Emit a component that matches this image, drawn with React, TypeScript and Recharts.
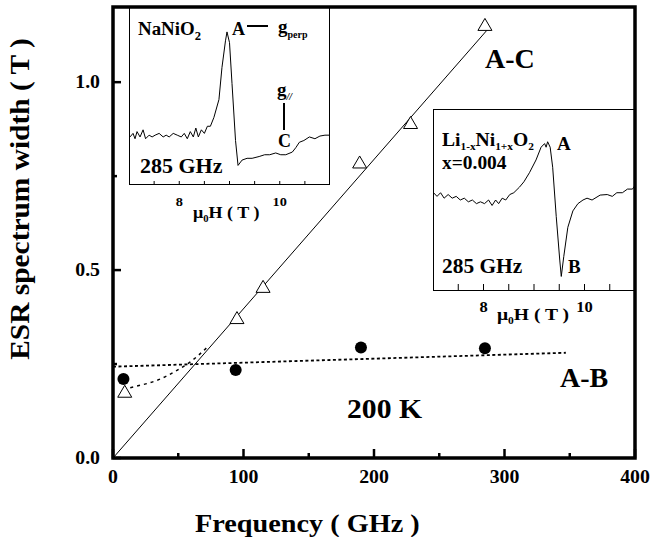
import React from "react";
import { ComposedChart, LineChart, Line, Scatter, XAxis, YAxis, ReferenceArea } from "recharts";

// main plot: A-C (open triangles) and A-B (filled circles) widths vs frequency
const triFreq = [9, 95, 115, 189, 228, 285];
const triWidth = [0.175, 0.371, 0.454, 0.785, 0.89, 1.151];
const dotFreq = [8, 94, 190, 285];
const dotWidth = [0.21, 0.234, 0.294, 0.292];

const fitACFreq = [0, 287];
const fitACWidth = [0, 1.14];
const fitABFreq = [0, 347];
const fitABWidth = [0.243, 0.28];
const lowFreq = [8, 18, 34, 49, 59, 72];
const lowWidth = [0.183, 0.191, 0.207, 0.233, 0.255, 0.294];

const freqTicks = [0, 50, 100, 150, 200, 250, 300, 350, 400];
const freqLabels = ["0", "", "100", "", "200", "", "300", "", "400"];
const widthTicks = [0, 0.25, 0.5, 0.75, 1.0];
const widthLabels = ["0.0", "", "0.5", "", "1.0"];

// inset spectra (field in T, signal in arbitrary units 0-100)
const spec1Field = [7.02, 7.08, 7.12, 7.16, 7.22, 7.28, 7.33, 7.4, 7.46, 7.52, 7.6, 7.68, 7.74, 7.8, 7.88, 7.96, 8.04, 8.1, 8.16, 8.22, 8.28, 8.33, 8.38, 8.44, 8.5, 8.56, 8.62, 8.69, 8.79, 8.85, 8.92, 8.95, 9.0, 9.05, 9.12, 9.17, 9.25, 9.35, 9.45, 9.59, 9.7, 9.8, 9.92, 10.02, 10.12, 10.25, 10.32, 10.39, 10.48, 10.59, 10.7, 10.8, 10.9, 10.99];
const spec1Signal = [27, 29, 26, 30, 27, 31, 26, 28, 27, 28, 29, 27, 28, 27, 29, 28, 27, 29, 26, 30, 27, 32, 27, 31, 29, 33, 33, 38, 48, 66, 81, 86, 80, 57, 25, 11, 14, 15, 15, 16, 17, 17, 18, 17, 17, 18.5, 21, 24, 25, 27, 26, 27.5, 28, 28];

const spec2Field = [7.01, 7.08, 7.15, 7.22, 7.3, 7.38, 7.46, 7.54, 7.62, 7.7, 7.78, 7.86, 7.94, 8.02, 8.1, 8.17, 8.24, 8.3, 8.37, 8.44, 8.52, 8.6, 8.71, 8.8, 8.91, 9.04, 9.14, 9.21, 9.24, 9.27, 9.32, 9.37, 9.44, 9.51, 9.54, 9.59, 9.67, 9.77, 9.87, 9.97, 10.05, 10.15, 10.31, 10.45, 10.55, 10.64, 10.75, 10.85, 10.95, 11.0];
const spec2Signal = [54, 52, 54, 51, 53, 51, 52, 50, 51, 49, 50, 48, 49, 48, 50, 47, 50, 48, 51, 50, 53, 54, 57, 60, 65, 72, 79, 81, 79, 82, 79, 68, 41, 17, 8, 19, 35, 44, 48, 50, 51, 50, 52.7, 53, 52, 54, 54, 56, 56, 58];

const fieldTicks = [7.5, 8, 8.5, 9, 9.5, 10, 10.5];
const fieldLabels = ["", "8", "", "", "", "10", ""];

const pts = (xs: number[], ys: number[]) => xs.map((f, i) => ({ f, v: ys[i] }));

const FONT = "'Liberation Serif', 'Times New Roman', serif";

function FreqTick(props: any) {
  const { x, y, payload } = props;
  const label = freqLabels[freqTicks.indexOf(payload.value)];
  const major = label !== "";
  return (
    <g>
      <line x1={x} x2={x} y1={y} y2={y - (major ? 9 : 5)} stroke="#000" strokeWidth={2.5} />
      {major && (
        <text transform={`translate(${x},${y + 25}) scale(1.1,1)`} textAnchor="middle"
          fontFamily={FONT} fontWeight="bold" fontSize={18} fill="#000">{label}</text>
      )}
    </g>
  );
}

function WidthTick(props: any) {
  const { x, y, payload } = props;
  const label = widthLabels[widthTicks.indexOf(payload.value)];
  const major = label !== "";
  return (
    <g>
      <line x1={x} x2={x + (major ? 8 : 4)} y1={y} y2={y} stroke="#000" strokeWidth={2.5} />
      {major && (
        <text transform={`translate(${x - 13},${y + 6}) scale(1.1,1)`} textAnchor="end"
          fontFamily={FONT} fontWeight="bold" fontSize={18} fill="#000">{label}</text>
      )}
    </g>
  );
}

function FieldTick(props: any) {
  const { x, y, payload, len, size, dy } = props;
  const label = fieldLabels[fieldTicks.indexOf(payload.value)];
  return (
    <g>
      <line x1={x} x2={x} y1={y} y2={y - len} stroke="#000" strokeWidth={1} />
      {label !== "" && (
        <text transform={`translate(${x},${y + dy}) scale(1.1,1)`} textAnchor="middle"
          fontFamily={FONT} fontWeight="bold" fontSize={size} fill="#000">{label}</text>
      )}
    </g>
  );
}

const Triangle = (p: any) => (
  <polygon points={`${p.cx},${p.cy - 7} ${p.cx - 7},${p.cy + 5} ${p.cx + 7},${p.cy + 5}`}
    fill="#fff" stroke="#000" strokeWidth={1} />
);
const Dot = (p: any) => <circle cx={p.cx} cy={p.cy} r={6} fill="#000" />;

function Txt({ x, y, size, k = 1, anchor = "start", children }: any) {
  const shift = anchor === "middle" ? "-50%" : anchor === "end" ? "-100%" : "0";
  const origin = anchor === "middle" ? "center" : anchor === "end" ? "right" : "left";
  return (
    <div style={{
      position: "absolute", left: x, top: y - 0.8375 * size, fontSize: size, lineHeight: 1,
      whiteSpace: "nowrap", transform: `translateX(${shift}) scaleX(${k})`, transformOrigin: `${origin} center`,
    }}>{children}</div>
  );
}

const Sub = ({ size, drop, italic, children }: any) => (
  <span style={{ fontSize: size, verticalAlign: -drop, lineHeight: 1, fontStyle: italic ? "italic" : "normal" }}>{children}</span>
);

function Inset({ left, top, w, h, data, len, size }: any) {
  return (
    <>
      <div style={{ position: "absolute", left, top, width: w, height: h, border: "1px solid #000",
        background: "#fff", boxSizing: "border-box" }} />
      <div style={{ position: "absolute", left, top }}>
        <LineChart width={w} height={h + 30} data={data} margin={{ top: 0, right: 0, bottom: 0, left: 0 }}>
          <XAxis type="number" dataKey="f" domain={[7, 11]} ticks={fieldTicks} interval={0} height={30}
            tickSize={0} tickMargin={0} axisLine={false} tickLine={false}
            tick={(p: any) => <FieldTick {...p} len={len} size={size} dy={21} />} />
          <YAxis hide type="number" domain={[0, 100]} />
          <Line dataKey="v" type="linear" stroke="#000" strokeWidth={1} dot={false} isAnimationActive={false} />
        </LineChart>
      </div>
    </>
  );
}

export default function App() {
  return (
    <div style={{ position: "absolute", left: 0, top: 0, width: 651, height: 537, background: "#fff",
      overflow: "hidden", fontFamily: FONT, fontWeight: "bold", color: "#000" }}>
      <Inset left={129} top={7} w={201} h={178} data={pts(spec1Field, spec1Signal)} len={4} size={13} />
      <Inset left={433} top={109} w={202} h={182} data={pts(spec2Field, spec2Signal)} len={7} size={15} />

      <div style={{ position: "absolute", left: 0, top: 0 }}>
        <ComposedChart width={651} height={537} margin={{ top: 7, right: 16, bottom: 49, left: 53 }}>
          <XAxis type="number" dataKey="f" domain={[0, 400]} ticks={freqTicks} interval={0} height={30}
            tickSize={0} tickMargin={0} axisLine={false} tickLine={false} tick={<FreqTick />} />
          <YAxis type="number" dataKey="v" domain={[0, 1.2]} ticks={widthTicks} interval={0} width={60}
            tickSize={0} tickMargin={0} axisLine={false} tickLine={false} tick={<WidthTick />} />
          <ReferenceArea x1={0} x2={400} y1={0} y2={1.2} fill="none" stroke="#000" strokeWidth={3.5} />
          <Line data={pts(fitACFreq, fitACWidth)} dataKey="v" type="linear" stroke="#000" strokeWidth={1}
            dot={false} isAnimationActive={false} />
          <Line data={pts(fitABFreq, fitABWidth)} dataKey="v" type="linear" stroke="#000" strokeWidth={1.8}
            strokeDasharray="3 2.5" dot={false} isAnimationActive={false} />
          <Line data={pts(lowFreq, lowWidth)} dataKey="v" type="monotone" stroke="#000" strokeWidth={1.5}
            strokeDasharray="3 4" dot={false} isAnimationActive={false} />
          <Scatter data={pts(triFreq, triWidth)} dataKey="v" shape={Triangle} isAnimationActive={false} />
          <Scatter data={pts(dotFreq, dotWidth)} dataKey="v" shape={Dot} isAnimationActive={false} />
        </ComposedChart>
      </div>

      {/* axis titles and main annotations */}
      <div style={{ position: "absolute", left: 20, top: 199, fontSize: 28, lineHeight: 1, whiteSpace: "nowrap",
        transform: "translate(-50%, -50%) rotate(-90deg) scaleX(1.05)" }}>ESR spectrum width ( T )</div>
      <Txt x={195} y={532} size={25} k={1.13}>Frequency ( GHz )</Txt>
      <Txt x={485} y={68} size={28}>A-C</Txt>
      <Txt x={560} y={387} size={28}>A-B</Txt>
      <Txt x={347} y={418} size={28} k={1.06}>200 K</Txt>

      {/* NaNiO2 inset */}
      <Txt x={138} y={35} size={18} k={1.05}>NaNiO<Sub size={12} drop={5}>2</Sub></Txt>
      <Txt x={232} y={35} size={18}>A</Txt>
      <div style={{ position: "absolute", left: 247, top: 25, width: 21, height: 1.5, background: "#000" }} />
      <Txt x={278} y={33} size={19}>g<Sub size={10} drop={5}>perp</Sub></Txt>
      <Txt x={277} y={96} size={19}>g<Sub size={10} drop={4} italic>//</Sub></Txt>
      <div style={{ position: "absolute", left: 283, top: 103, width: 1.5, height: 27, background: "#000" }} />
      <Txt x={278} y={147} size={18}>C</Txt>
      <Txt x={140} y={173} size={20} k={1.1}>285 GHz</Txt>
      <Txt x={193} y={218} size={17} k={1.06}>μ<Sub size={10} drop={4}>0</Sub>H ( T )</Txt>

      {/* Li1-xNi1+xO2 inset */}
      <Txt x={442} y={146} size={19} k={1.03}>
        Li<Sub size={11} drop={4}>1-x</Sub>Ni<Sub size={11} drop={4}>1+x</Sub>O<Sub size={11} drop={4}>2</Sub>
      </Txt>
      <Txt x={557} y={150} size={19}>A</Txt>
      <Txt x={442} y={169} size={18} k={1.08}>x=0.004</Txt>
      <Txt x={442} y={273} size={20} k={1.07}>285 GHz</Txt>
      <Txt x={568} y={273} size={19}>B</Txt>
      <Txt x={497} y={320} size={17} k={1.15}>μ<Sub size={10} drop={4}>0</Sub>H ( T )</Txt>
    </div>
  );
}
